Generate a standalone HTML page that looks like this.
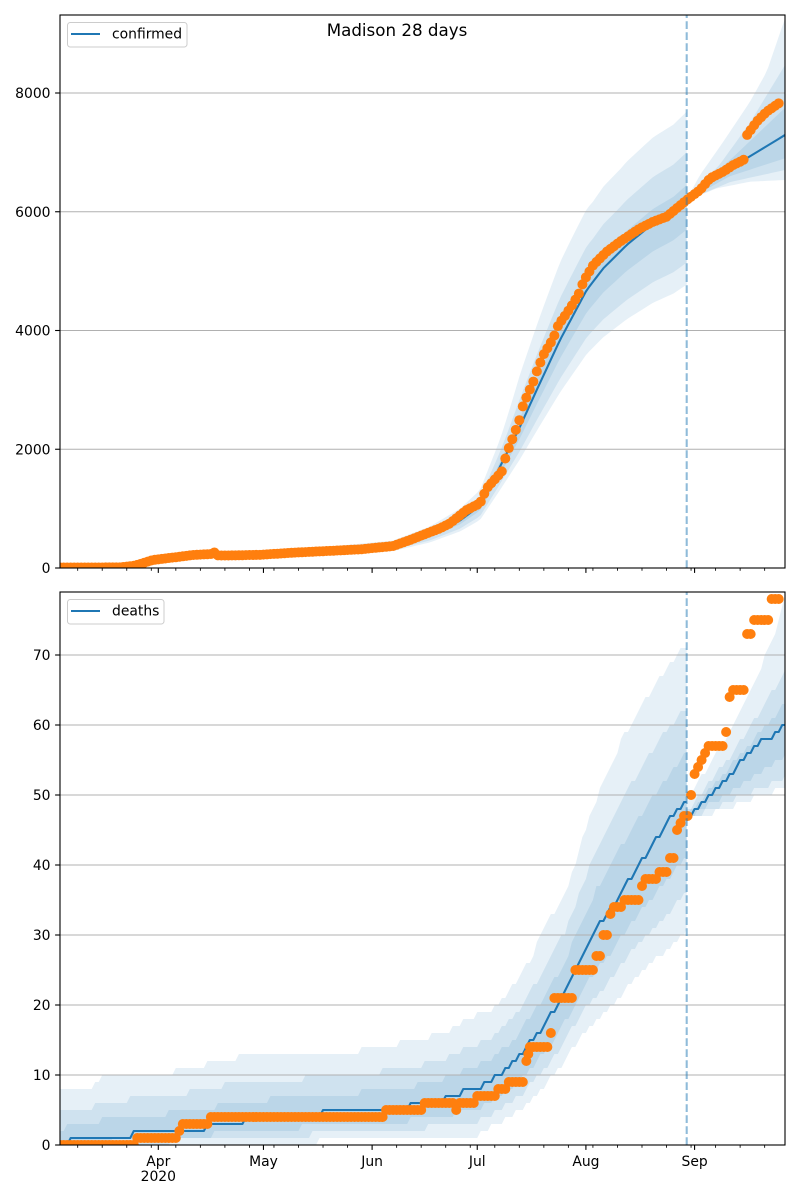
<!DOCTYPE html>
<html><head><meta charset="utf-8"><style>
html,body{margin:0;padding:0;background:#fff;}
svg{display:block;font-family:"DejaVu Sans","Liberation Sans",sans-serif;}
</style></head><body>
<svg id="s" width="800" height="1200" viewBox="0 0 800 1200" xmlns="http://www.w3.org/2000/svg">
<defs>
<clipPath id="c1"><rect x="60" y="15" width="725" height="553"/></clipPath>
<clipPath id="c2"><rect x="60" y="592" width="725" height="553"/></clipPath>
</defs>
<rect x="0" y="0" width="800" height="1200" fill="#fff"/>
<g clip-path="url(#c1)">
<g id="b1"></g>
<g stroke="#b0b0b0" stroke-width="1.1">
<line x1="60" x2="785" y1="449.25" y2="449.25"/>
<line x1="60" x2="785" y1="330.5" y2="330.5"/>
<line x1="60" x2="785" y1="211.75" y2="211.75"/>
<line x1="60" x2="785" y1="93" y2="93"/>
</g>
<g id="l1"></g>
<line x1="686.7" x2="686.7" y1="568" y2="15" stroke="#1f77b4" stroke-opacity="0.5" stroke-width="2.08" stroke-dasharray="7.7,3.3"/>
</g>
<g clip-path="url(#c2)">
<g id="b2"></g>
<g stroke="#b0b0b0" stroke-width="1.1">
<line x1="60" x2="785" y1="1075" y2="1075"/>
<line x1="60" x2="785" y1="1005" y2="1005"/>
<line x1="60" x2="785" y1="935" y2="935"/>
<line x1="60" x2="785" y1="865" y2="865"/>
<line x1="60" x2="785" y1="795" y2="795"/>
<line x1="60" x2="785" y1="725" y2="725"/>
<line x1="60" x2="785" y1="655" y2="655"/>
</g>
<g id="l2"></g>
<line x1="686.7" x2="686.7" y1="1145" y2="592" stroke="#1f77b4" stroke-opacity="0.5" stroke-width="2.08" stroke-dasharray="7.7,3.3"/>
</g>
<g id="ticks" stroke="#000"></g>
<rect x="60" y="15" width="725" height="553" fill="none" stroke="#000" stroke-width="1.1"/>
<rect x="60" y="592" width="725" height="553" fill="none" stroke="#000" stroke-width="1.1"/>
<g font-size="13.9" fill="#000" text-anchor="end">
<text x="50.5" y="573">0</text>
<text x="50.5" y="454.25">2000</text>
<text x="50.5" y="335.5">4000</text>
<text x="50.5" y="216.75">6000</text>
<text x="50.5" y="98">8000</text>
<text x="50.5" y="1150">0</text>
<text x="50.5" y="1080">10</text>
<text x="50.5" y="1010">20</text>
<text x="50.5" y="940">30</text>
<text x="50.5" y="870">40</text>
<text x="50.5" y="800">50</text>
<text x="50.5" y="730">60</text>
<text x="50.5" y="660">70</text>
</g>
<g font-size="13.9" fill="#000" text-anchor="middle">
<text x="158.3" y="1166">Apr</text>
<text x="158.3" y="1181">2020</text>
<text x="263.5" y="1166">May</text>
<text x="372.1" y="1166">Jun</text>
<text x="477.3" y="1166">Jul</text>
<text x="585.9" y="1166">Aug</text>
<text x="694.6" y="1166">Sep</text>
</g>
<text x="397" y="36" font-size="16.7" text-anchor="middle" fill="#000">Madison 28 days</text>
<rect x="67.5" y="22.5" width="119.5" height="24.5" rx="2.8" fill="#fff" fill-opacity="0.8" stroke="#cccccc" stroke-width="1"/>
<line x1="71" x2="100" y1="34" y2="34" stroke="#1f77b4" stroke-width="2.08"/>
<text x="112" y="38.5" font-size="13.9" fill="#000">confirmed</text>
<rect x="67.5" y="599.5" width="96.5" height="24.5" rx="2.8" fill="#fff" fill-opacity="0.8" stroke="#cccccc" stroke-width="1"/>
<line x1="71" x2="100" y1="611" y2="611" stroke="#1f77b4" stroke-width="2.08"/>
<text x="112" y="615.5" font-size="13.9" fill="#000">deaths</text>
</svg>
<script>
(function(){
var NS='http://www.w3.org/2000/svg';
function X(d){return 158.3+3.505*d;}
function ip(p,x){if(x<=p[0][0])return p[0][1];for(var i=1;i<p.length;i++){if(x<=p[i][0]){var a=p[i-1],b=p[i];return a[1]+(b[1]-a[1])*(x-a[0])/(b[0]-a[0]);}}return p[p.length-1][1];}
function st(list,x){for(var i=0;i<list.length;i++){if(x<list[i][0])return list[i][1];}return list[list.length-1][1];}
function Y1(v){return 568-v*0.059375;}
function Y2(v){return 1145-7*v;}
function el(par,tag,a){var e=document.createElementNS(NS,tag);for(var k in a)e.setAttribute(k,a[k]);par.appendChild(e);return e;}
function P(xs,vs,Y){return xs.map(function(x,i){return x.toFixed(2)+','+Y(vs[i]).toFixed(2);});}
function band(g,xs,lo,hi,Y){var a=P(xs,hi,Y),b=P(xs,lo,Y).reverse();el(g,'path',{d:'M'+a.concat(b).join('L')+'Z',fill:'#1f77b4','fill-opacity':'0.11',stroke:'none'});}
function line(g,xs,vs,Y){el(g,'path',{d:'M'+P(xs,vs,Y).join('L'),fill:'none',stroke:'#1f77b4','stroke-width':'2.08','stroke-linejoin':'round'});}
function dots(g,xs,vs,Y){for(var i=0;i<xs.length;i++)el(g,'circle',{cx:xs[i].toFixed(2),cy:Y(vs[i]).toFixed(2),r:'5',fill:'#ff7f0e'});}
var pre=[],post=[686.7],obsX=[],d;
for(d=-28;d<=150;d++)pre.push(X(d));pre.push(686.7);
for(d=151;d<=179;d++)post.push(X(d));
for(d=-28;d<=177;d++)obsX.push(X(d));
var b1=document.getElementById('b1'),l1=document.getElementById('l1'),b2=document.getElementById('b2'),l2=document.getElementById('l2');

/* ---------- TOP ---------- */
var medTop=[[60,5],[120,10],[150,110],[193,210],[260,225],[327,286],[393,370],[430,560],[460,800],[480,1050],[500,1706],[520,2380],[536.7,2998],[560,3840],[586.7,4682],[603.3,5047],[626.7,5440],[653.3,5805],[673.3,6001],[686.7,6198]];
var Uo=[[60,1.25],[480,1.25],[500,1.27],[520,1.37],[540,1.36],[560,1.34],[593,1.28],[620,1.26],[687,1.24]];
var mT=pre.map(function(x){return ip(medTop,x);});
var uT=pre.map(function(x){return ip(Uo,x);});
var ouT=mT.map(function(m,i){return m*uT[i];}),muT=mT.map(function(m,i){return m*(1+(uT[i]-1)*0.54);}),iuT=mT.map(function(m,i){return m*(1+(uT[i]-1)*0.17);});
var olT=mT.map(function(m){return m*0.77;}),mlT=mT.map(function(m){return m*(1-0.23*0.74);}),ilT=mT.map(function(m){return m*(1-0.23*0.35);});
band(b1,pre,olT,ouT,Y1);band(b1,pre,mlT,muT,Y1);band(b1,pre,ilT,iuT,Y1);
var medTopP=[[686.7,6198],[720,6619],[746.7,6900],[785,7293],[790,7340]];
var ouP=[[686.7,6210],[700,6619],[723.3,7180],[750,7854],[766.7,8358],[785,9258],[790,9400]];
var muP=[[686.7,6205],[720,6800],[750,7500],[785,8471],[790,8600]];
var iuP=[[686.7,6200],[735,6950],[785,7750],[790,7820]];
var ilP=[[686.7,6195],[730,6600],[785,6900],[790,6930]];
var mlP=[[686.7,6190],[730,6500],[785,6703],[790,6720]];
var olP=[[686.7,6185],[716.7,6394],[750,6506],[785,6535],[790,6540]];
function ev(p,xs){return xs.map(function(x){return ip(p,x);});}
band(b1,post,ev(olP,post),ev(ouP,post),Y1);band(b1,post,ev(mlP,post),ev(muP,post),Y1);band(b1,post,ev(ilP,post),ev(iuP,post),Y1);
line(l1,pre,mT,Y1);line(l1,post,ev(medTopP,post),Y1);
var obsTop=[[60,8],[120,10],[135,40],[153,135],[175,180],[193,219],[210.9,235],[214.4,262],[217.9,212],[226.7,210],[260,222],[293,258],[327,286],[360,314],[393,370],[410,471],[427,584],[440,668],[450,753],[466.7,977],[480,1090],[486.7,1342],[501.7,1622],[506.7,1931],[513.3,2211],[520,2521],[522.7,2717],[526.7,2885],[533.3,3138],[536.7,3306],[543.3,3587],[553.3,3868],[558.3,4093],[566.7,4290],[573.3,4459],[580,4654],[583.3,4822],[593.3,5103],[606.7,5327],[620,5496],[640,5721],[653.3,5833],[666.7,5917],[676.7,6058],[686.7,6198],[700,6366],[710,6563],[723.3,6675],[733.3,6787],[743.6,6872],[747.1,7293],[756.7,7517],[766.7,7686],[778.7,7826]];
dots(l1,obsX,ev(obsTop,obsX),Y1);

/* ---------- BOTTOM ---------- */
var F=Math.floor;
var medBot=[[60,0.5],[68,1],[131,1.99],[133,2],[200,2.99],[204,3],[241,3.99],[243,4],[320,4.99],[322,5],[406,5.99],[410,6],[443,7],[463,8],[481,9],[492,10],[503,11],[511,12],[519,13],[528,15],[546.7,18],[563.3,22],[580,27],[598.3,32],[610,34],[626.7,38],[636.7,40],[650,43],[660,45],[675,48],[686.7,49.9]];
var ouB=[[60,8],[85,8],[100,10],[170,10.9],[174,11],[200,11.9],[204,12],[233,12.9],[237,13],[357,13.9],[360,14],[393,14.9],[397,15],[427,15.9],[430,16],[450,17],[463,18],[476.7,19],[493,20],[506.7,22],[515,23.6],[530,27],[546.7,32],[566.7,37],[586.7,46],[603.3,52.6],[623.3,58.8],[640,63],[660,67.4],[680,71],[686.7,71.7]];
var olB=[[60,0],[316,0.9],[318,1],[470,1.9],[480,2],[496.7,3.6],[510,4.6],[523,5.5],[540,8.3],[556.7,11],[573.3,14.5],[590,17.4],[610,20],[630,23.6],[646.7,26],[663.3,28],[676.7,29.8],[686.7,31.2]];
var mBc=ev(medBot,pre),ouBc=ev(ouB,pre),olBc=ev(olB,pre);
function fr(base,other,f){return base.map(function(m,i){return F(m+f*(other[i]-m));});}
band(b2,pre,olBc.map(F),ouBc.map(F),Y2);
band(b2,pre,fr(mBc,olBc,0.72),fr(mBc,ouBc,0.6),Y2);
band(b2,pre,fr(mBc,olBc,0.45),fr(mBc,ouBc,0.3),Y2);
var ouBP=[[686.7,49],[693,51],[727,59],[753,66.4],[773,72.6],[782,77.4],[785,79],[790,80]];
var muBP=[[686.7,48],[735,57],[785,68],[790,69]];
var iuBP=[[686.7,47.5],[785,63.5],[790,64]];
var ilBP=[[686.7,47],[785,56],[790,56.5]];
var mlBP=[[686.7,47],[785,53],[790,53.3]];
var olBP=[[686.7,47],[720,48.3],[747,49.7],[773,51],[785,51.2],[790,51.3]];
function evF(p,xs){return xs.map(function(x){return F(ip(p,x));});}
band(b2,post,evF(olBP,post),evF(ouBP,post),Y2);
band(b2,post,evF(mlBP,post),evF(muBP,post),Y2);
band(b2,post,evF(ilBP,post),evF(iuBP,post),Y2);
line(l2,pre,mBc.map(F),Y2);
var medBotP=[[686.7,47],[693,48],[713,51],[740,55],[760,58],[773,59],[782,60],[790,60.9]];
line(l2,post,evF(medBotP,post),Y2);
var obsB=[[137,0],[176,1],[182,2],[209,3],[386,4],[424,5],[455,6],[458,5],[476,6],[497,7],[506,8],[524,9],[527.5,12],[549,14],[554,16],[572,21],[594,25],[601,27],[608,30],[611,33],[622,34],[640.5,35],[643,37],[657,38],[668,39],[676,41],[678.5,45],[681.5,46],[688.5,47],[692.5,50],[696,53],[699.5,54],[703,55],[706,56],[724,57],[727.5,59],[731,64],[745,65],[752,73],[769,75],[999,78]];
var ox=obsX.slice(),ov=obsX.map(function(x){return st(obsB,x);});
ox.push(528.3);ov.push(13);
dots(l2,ox,ov,Y2);

/* ---------- TICKS ---------- */
var tg=document.getElementById('ticks');
var majors=[0,30,61,91,122,153];
function tick(x,y,len,w){el(tg,'line',{x1:x.toFixed(2),x2:x.toFixed(2),y1:y,y2:y+len,'stroke-width':w});}
for(var k=0;k<=28;k++){var dd=-23+7*k;if(majors.indexOf(dd)>=0)continue;var xx=X(dd);if(xx<60||xx>785)continue;tick(xx,568,2.8,0.85);tick(xx,1145,2.8,0.85);}
majors.forEach(function(m){tick(X(m),568,4.9,1.1);tick(X(m),1145,4.9,1.1);});
[568,449.25,330.5,211.75,93].forEach(function(y){el(tg,'line',{x1:55.1,x2:60,y1:y,y2:y,'stroke-width':1.1});});
[1145,1075,1005,935,865,795,725,655].forEach(function(y){el(tg,'line',{x1:55.1,x2:60,y1:y,y2:y,'stroke-width':1.1});});
})();
</script>
</body></html>
